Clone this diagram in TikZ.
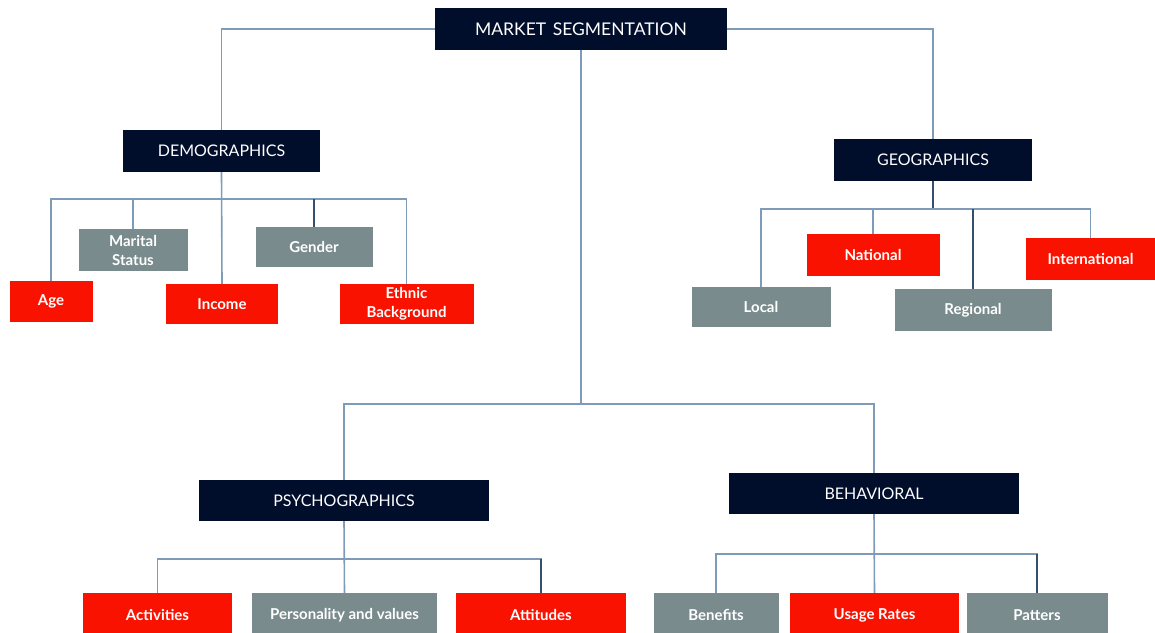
\documentclass[tikz,border=0pt]{standalone}
\usepackage{fontspec}
\setmainfont{Lato}
\definecolor{navy}{HTML}{000D2B}
\definecolor{segred}{HTML}{FA1200}
\definecolor{seggray}{HTML}{798B8D}
\definecolor{wire}{HTML}{7E9CB8}
\definecolor{darkwire}{HTML}{34506E}
\begin{document}
\begin{tikzpicture}[x=1pt,y=-1pt,
  box/.style={inner sep=0pt, text=white, align=center},
  headbox/.style={box, fill=navy, font=\fontsize{16}{19}\selectfont},
  leafbox/.style={box, font=\fontsize{15}{19}\selectfont\bfseries},
  redbox/.style={leafbox, fill=segred},
  graybox/.style={leafbox, fill=seggray},
  wired/.style={draw=wire, line width=1.6pt},
  darkwired/.style={draw=darkwire, line width=1.6pt}]
\useasboundingbox (0,0) rectangle (1155,632);

% main category boxes
\node[headbox, minimum width=292, minimum height=42, font=\fontsize{17.5}{20}\selectfont] (ms) at (581,29) {MARKET\hspace{2pt} SEGMENTATION};
\node[headbox, minimum width=197, minimum height=42] (dem) at (221.5,151) {DEMOGRAPHICS};
\node[headbox, minimum width=198, minimum height=42] (geo) at (933,160)   {GEOGRAPHICS};
\node[headbox, minimum width=290, minimum height=41] (psy) at (344,500.5) {PSYCHOGRAPHICS};
\node[headbox, minimum width=290, minimum height=41] (beh) at (874,493.5) {BEHAVIORAL};

% demographics
\node[redbox,  minimum width=83,  minimum height=41] (age) at (51,301.5)  {Age};
\node[graybox, minimum width=109, minimum height=42] (mar) at (133,250)   {Marital\\Status};
\node[redbox,  minimum width=112, minimum height=40] (inc) at (222,304)   {Income};
\node[graybox, minimum width=117, minimum height=40] (gen) at (314,247)   {Gender};
\node[redbox,  minimum width=134, minimum height=40] (eth) at (406.5,304) {Ethnic\\Background};

% geographics
\node[graybox, minimum width=139, minimum height=40] (loc) at (761,307)    {Local};
\node[redbox,  minimum width=133, minimum height=42] (nat) at (873,255)    {National};
\node[graybox, minimum width=157, minimum height=42] (reg) at (973,310)    {Regional};
\node[redbox,  minimum width=129, minimum height=42] (int) at (1090.5,259) {International};

% psychographics
\node[redbox,  minimum width=149, minimum height=44] (act) at (157.5,615)  {Activities};
\node[graybox, minimum width=185, minimum height=44] (per) at (344.5,615)  {Personality and values};
\node[redbox,  minimum width=170, minimum height=44] (att) at (541,615)    {Attitudes};

% behavioral
\node[graybox, minimum width=125, minimum height=44] (ben) at (716,615)    {Benefits};
\node[redbox,  minimum width=169, minimum height=44] (use) at (874.5,615)  {Usage Rates};
\node[graybox, minimum width=141, minimum height=44] (pat) at (1037,615)   {Patters};

% bus junctions
\coordinate (mbus) at (581,404);
\coordinate (dbus) at (222,199);
\coordinate (gbus) at (933,209);
\coordinate (pbus) at (344,559);
\coordinate (bbus) at (874,554);

% top level
\draw[wired] (dem.north) |- (ms.west);
\draw[wired] (ms.east) -| (geo.north);
\draw[wired] (ms.south) -- (mbus);
\draw[wired] (psy.north) |- (mbus) -| (beh.north);

% demographics branches
\draw[wired] (dem.south) -- (inc.north);
\draw[wired] (age.north) |- (dbus) -| (eth.north);
\draw[wired] (mar.north) -- (mar.north |- dbus);
\draw[darkwired] (gen.north) -- (gen.north |- dbus);

% geographics branches
\draw[darkwired] (geo.south) -- (gbus);
\draw[wired] (loc.north) |- (gbus) -| (int.north);
\draw[wired] (nat.north) -- (nat.north |- gbus);
\draw[darkwired] (reg.north) -- (reg.north |- gbus);

% psychographics branches
\draw[wired] (psy.south) -- (per.north);
\draw[wired] (act.north) |- (pbus);
\draw[wired] (pbus) -| (att.north);
\draw[darkwired] (att.north) -- (att.north |- pbus);

% behavioral branches
\draw[wired] (beh.south) -- (use.north);
\draw[wired] (ben.north) |- (bbus) -| (pat.north);
\draw[darkwired] (pat.north) -- (pat.north |- bbus);
\end{tikzpicture}
\end{document}
